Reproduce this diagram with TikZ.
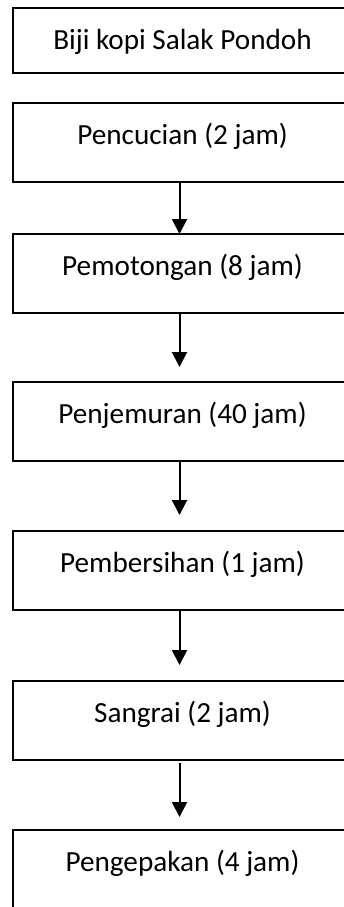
\documentclass[tikz,border=0pt]{standalone}
\usepackage{fontspec}
\setmainfont{Carlito}
\usetikzlibrary{arrows.meta}

\tikzset{
  stage/.style={draw, line width=2pt, rectangle, anchor=north west,
    minimum width=340pt, inner sep=0pt, outer sep=0pt,
    text height=41pt, text depth=38pt,
    font=\fontsize{29.2}{34}\selectfont},
  firststage/.style={stage, text depth=24pt},
  flow/.style={line width=2pt, -{Triangle[width=15pt,length=15pt]}},
}

\begin{document}
\begin{tikzpicture}[x=1pt,y=-1pt]
  \useasboundingbox (0,0) rectangle (344,907);
  \clip (0,0) rectangle (344,907);

  \node[firststage] (s0) at (12.5,8)   {Biji kopi Salak Pondoh};
  \node[stage]      (s1) at (12.5,103) {Pencucian (2 jam)};
  \node[stage]      (s2) at (12.5,234) {Pemotongan (8 jam)};
  \node[stage]      (s3) at (12.5,382) {Penjemuran (40 jam)};
  \node[stage]      (s4) at (12.5,531) {Pembersihan (1 jam)};
  \node[stage]      (s5) at (12.5,681) {Sangrai (2 jam)};
  \node[stage]      (s6) at (12.5,830) {Pengepakan (4 jam)};

  % process arrows, slightly left of the box centres
  \draw[flow] ([xshift=-3pt]s1.south) -- ([xshift=-3pt]s2.north);
  \draw[flow, shorten >=15pt] ([xshift=-3pt]s2.south) -- ([xshift=-3pt]s3.north);
  \draw[flow, shorten >=16pt] ([xshift=-3pt]s3.south) -- ([xshift=-3pt]s4.north);
  \draw[flow, shorten >=16pt] ([xshift=-3pt]s4.south) -- ([xshift=-3pt]s5.north);
  \draw[flow, shorten <=3pt, shorten >=13pt] ([xshift=-3pt]s5.south) -- ([xshift=-3pt]s6.north);
\end{tikzpicture}
\end{document}
